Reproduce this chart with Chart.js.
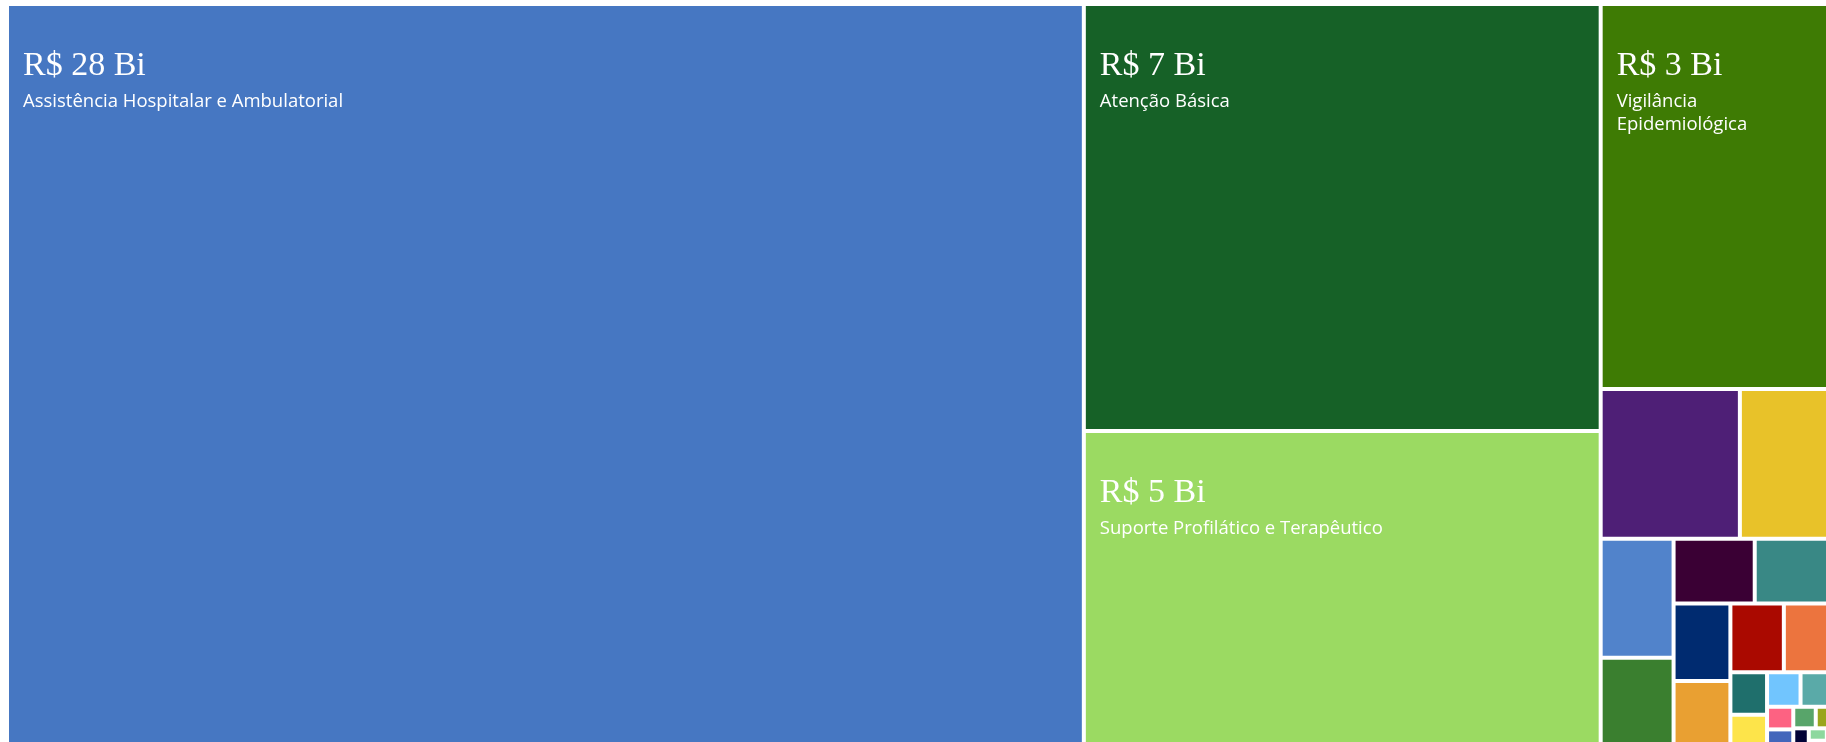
<!DOCTYPE html>
<html>
<head>
<meta charset="utf-8">
<script src="https://cdn.jsdelivr.net/npm/chart.js@4.4.1/dist/chart.umd.min.js"></script>
<style>
  html, body { margin: 0; padding: 0; overflow: hidden; background: #fff; }
  #wrap { position: absolute; left: 0; top: 0; width: 1832px; height: 750px; }
</style>
</head>
<body>
<div id="wrap"><canvas id="chart"></canvas></div>
<script>
// despesa por subfunção (R$ bilhões)
const categories = [
  'Assistência Hospitalar e Ambulatorial',
  'Atenção Básica',
  'Suporte Profilático e Terapêutico',
  'Vigilância Epidemiológica',
  'Administração Geral',
  'Vigilância Sanitária',
  'Alimentação e Nutrição',
  'Formação de Recursos Humanos',
  'Desenvolvimento Científico',
  'Previdência do Regime Estatutário',
  'Outros Encargos Especiais',
  'Tecnologia da Informação',
  'Comunicação Social',
  'Saneamento Básico Urbano',
  'Assistência Comunitária',
  'Normatização e Fiscalização',
  'Controle Interno',
  'Planejamento e Orçamento',
  'Defesa Civil',
  'Saneamento Básico Rural',
  'Difusão do Conhecimento Científico e Tecnológico',
  'Ensino Superior',
  'Assistência ao Idoso',
  'Proteção e Benefícios ao Trabalhador',
  'Transferências para a Educação Básica',
  'Demais Subfunções'
];
const values = [
  28.69, 7.88, 5.89, 3.18, 0.745, 0.493, 0.310, 0.240, 0.188, 0.179,
  0.157, 0.140, 0.131, 0.118, 0.0555, 0.0463, 0.0413, 0.0388, 0.0212, 0.0193,
  0.0173, 0.0125, 0.0120, 0.0080, 0.0060, 0.0040
];
const colors = [
  '#4677C2', '#166127', '#9BDA62', '#3E7B04', '#4E1F76', '#E8C229', '#5183CB', '#3A7F2F', '#3A0034', '#398885',
  '#002B70', '#E9A032', '#AA0900', '#EC743E', '#1F6F6C', '#FDE44A', '#71C5FE', '#5AAAA8', '#FD6282', '#4366BB',
  '#58A56A', '#9AA51C', '#010237', '#8DD89E', '#C9A0DC', '#7A7A7A'
];

const GAP = 2;

// squarified treemap layout
function squarify(vals, x, y, w, h) {
  const total = vals.reduce((a, b) => a + b, 0);
  const k = w * h / total;
  const items = vals.map((v, i) => ({ i: i, a: v * k })).sort((p, q) => q.a - p.a);
  const out = [];
  let rect = { x: x, y: y, w: w, h: h };
  let row = [];

  function worst(r, side) {
    let s = 0, mx = -Infinity, mn = Infinity;
    r.forEach(it => { s += it.a; mx = Math.max(mx, it.a); mn = Math.min(mn, it.a); });
    return Math.max(side * side * mx / (s * s), (s * s) / (side * side * mn));
  }
  function place(r) {
    const s = r.reduce((a, it) => a + it.a, 0);
    if (rect.w >= rect.h) {
      const t = s / rect.h;
      let yy = rect.y;
      r.forEach(it => { const hh = it.a / t; out[it.i] = { x: rect.x, y: yy, w: t, h: hh }; yy += hh; });
      rect = { x: rect.x + t, y: rect.y, w: rect.w - t, h: rect.h };
    } else {
      const t = s / rect.w;
      let xx = rect.x;
      r.forEach(it => { const ww = it.a / t; out[it.i] = { x: xx, y: rect.y, w: ww, h: t }; xx += ww; });
      rect = { x: rect.x, y: rect.y + t, w: rect.w, h: rect.h - t };
    }
  }
  let n = 0;
  while (n < items.length) {
    const side = Math.min(rect.w, rect.h);
    const it = items[n];
    if (row.length === 0 || worst(row.concat(it), side) <= worst(row, side)) {
      row.push(it);
      n++;
    } else {
      place(row);
      row = [];
    }
  }
  if (row.length) place(row);
  return out;
}

function wrapText(ctx, text, maxW) {
  const words = text.split(' ');
  const lines = [];
  let cur = '';
  words.forEach(wd => {
    const test = cur ? cur + ' ' + wd : wd;
    if (cur && ctx.measureText(test).width > maxW) { lines.push(cur); cur = wd; }
    else cur = test;
  });
  if (cur) lines.push(cur);
  return lines;
}

class TreemapController extends Chart.DatasetController {
  parse(start, count) {
    const data = this.getDataset().data;
    const parsed = this._cachedMeta._parsed;
    for (let i = start; i < start + count; i++) parsed[i] = { x: i, y: +data[i] };
  }
  update(mode) {
    const meta = this._cachedMeta;
    const xs = meta.xScale, ys = meta.yScale;
    const x0 = xs.getPixelForValue(0), x1 = xs.getPixelForValue(1);
    const y0 = ys.getPixelForValue(1), y1 = ys.getPixelForValue(0);
    const boxes = squarify(this.getDataset().data, x0, y0, x1 - x0, y1 - y0);
    meta.data.forEach((rect, i) => {
      const b = boxes[i];
      const left = b.x + GAP, right = b.x + b.w - GAP;
      const top = b.y + GAP, bottom = b.y + b.h - GAP;
      this.updateElement(rect, i, {
        x: (left + right) / 2,
        y: top,
        base: bottom,
        width: right - left,
        height: bottom - top,
        horizontal: false,
        borderSkipped: {},
        inflateAmount: 0,
        options: this.resolveDataElementOptions(i, mode)
      }, 'none');
    });
  }
  draw() {
    super.draw();
    const ctx = this.chart.ctx;
    const labels = this.chart.data.labels;
    const data = this.getDataset().data;
    this._cachedMeta.data.forEach((rect, i) => {
      if (rect.width < 200 || rect.height < 120) return;
      const left = rect.x - rect.width / 2 + 14;
      let y = rect.y + 69;
      ctx.save();
      ctx.fillStyle = '#ffffff';
      ctx.textAlign = 'left';
      ctx.textBaseline = 'alphabetic';
      ctx.font = '34px "Liberation Serif"';
      ctx.fillText('R$ ' + Math.trunc(data[i]) + ' Bi', left, y);
      ctx.font = '18.5px "Open Sans"';
      y += 32;
      wrapText(ctx, labels[i], rect.width - 28).forEach(line => {
        ctx.fillText(line, left, y);
        y += 23;
      });
      ctx.restore();
    });
  }
}
TreemapController.id = 'treemap';
TreemapController.defaults = { dataElementType: 'bar', datasetElementType: false };
TreemapController.overrides = {
  scales: {
    x: { type: 'linear', display: false },
    y: { type: 'linear', display: false }
  }
};
Chart.register(TreemapController);

new Chart(document.getElementById('chart'), {
  type: 'treemap',
  data: {
    labels: categories,
    datasets: [{
      label: 'Despesa (R$ bi)',
      data: values,
      backgroundColor: colors,
      borderWidth: 0
    }]
  },
  options: {
    responsive: true,
    maintainAspectRatio: false,
    animation: false,
    events: [],
    layout: { padding: { left: 7, top: 4, right: 0, bottom: 0 } },
    scales: {
      x: { type: 'linear', display: false, min: 0, max: 1 },
      y: { type: 'linear', display: false, min: 0, max: 1 }
    },
    plugins: {
      legend: { display: false },
      tooltip: { enabled: false }
    }
  }
});
</script>
</body>
</html>
